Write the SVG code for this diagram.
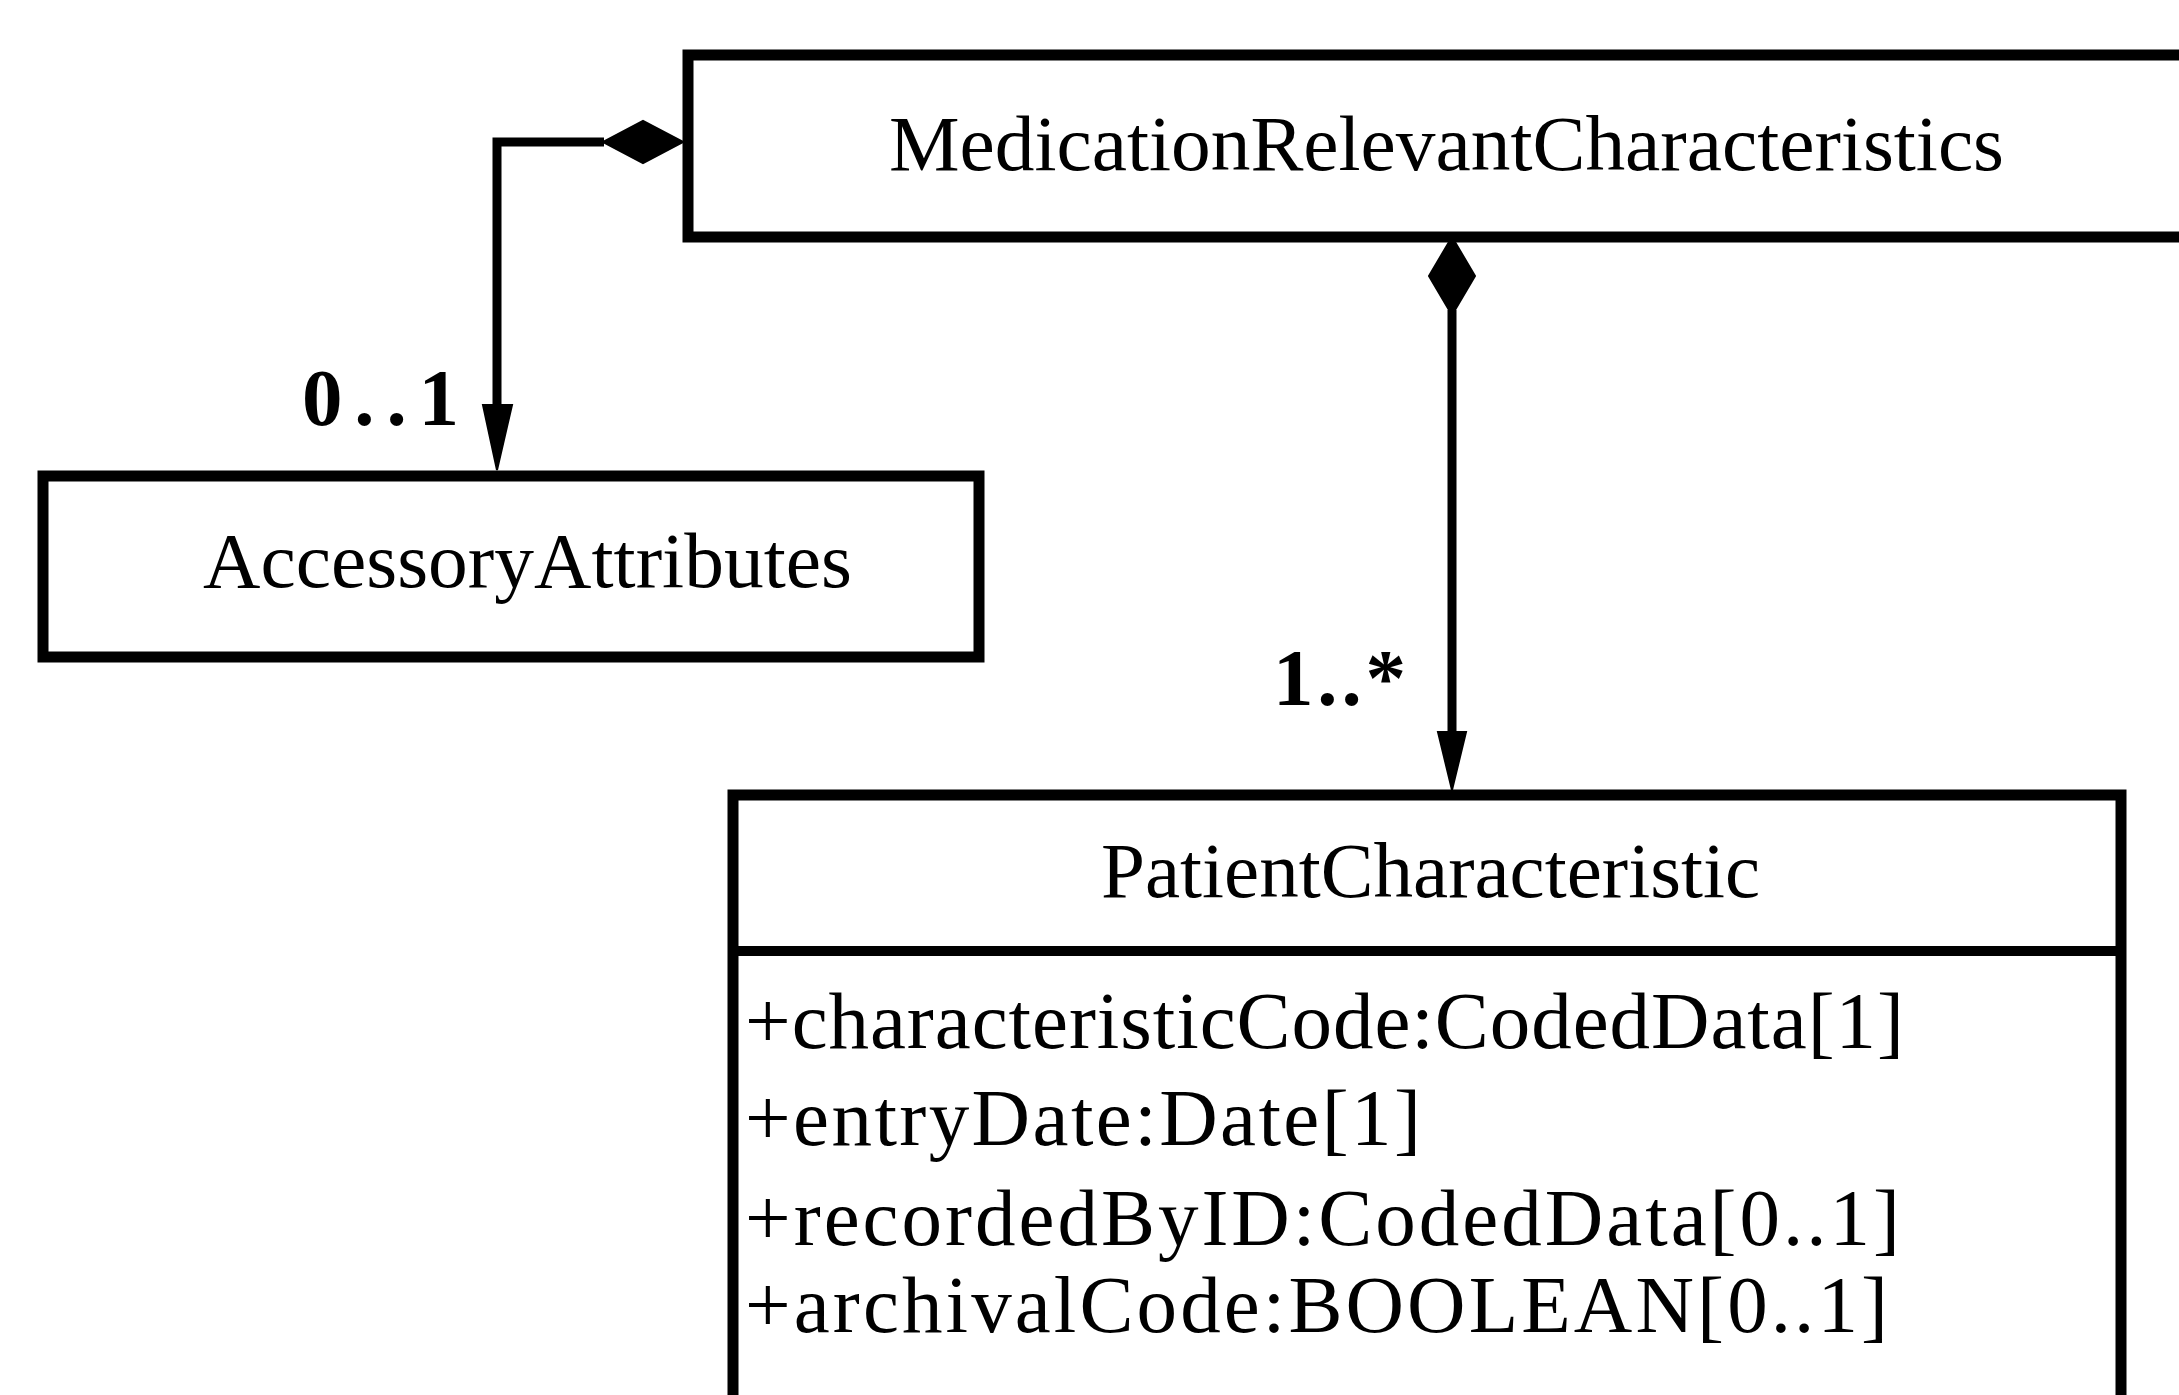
<svg xmlns="http://www.w3.org/2000/svg" width="2179" height="1395" viewBox="0 0 2179 1395">
  <style>
    .box { fill: #ffffff; stroke: #000000; stroke-width: 11; }
    .div { stroke: #000000; stroke-width: 10; fill: none; }
    .line { stroke: #000000; stroke-width: 9; fill: none; }
    .solid { fill: #000000; stroke: #000000; stroke-width: 2; stroke-linejoin: miter; }
    .title { font-family: "Liberation Serif", "Times New Roman", serif; font-size: 79px; fill: #000000; }
    .attr { font-family: "Liberation Serif", "Times New Roman", serif; font-size: 81px; fill: #000000; }
    .mult { font-family: "Liberation Serif", "Times New Roman", serif; font-size: 81px; font-weight: bold; fill: #000000; }
  </style>
  <rect x="0" y="0" width="2179" height="1395" fill="#ffffff"/>

  <g id="node-MedicationRelevantCharacteristics">
    <rect class="box" x="688" y="55" width="1560" height="182"/>
    <text class="title" x="889" y="170" textLength="1115" lengthAdjust="spacingAndGlyphs">MedicationRelevantCharacteristics</text>
  </g>

  <g id="node-AccessoryAttributes">
    <rect class="box" x="43" y="476" width="936" height="181"/>
    <text class="title" x="203" y="587" textLength="649" lengthAdjust="spacingAndGlyphs">AccessoryAttributes</text>
  </g>

  <g id="node-PatientCharacteristic">
    <rect class="box" x="733" y="795" width="1388" height="660"/>
    <line class="div" x1="733" y1="951" x2="2121" y2="951"/>
    <text class="title" x="1101" y="897" textLength="659" lengthAdjust="spacingAndGlyphs">PatientCharacteristic</text>
    <text class="attr" x="745" y="1048" textLength="1159" lengthAdjust="spacing">+characteristicCode:CodedData[1]</text>
    <text class="attr" x="745" y="1145" textLength="676" lengthAdjust="spacing">+entryDate:Date[1]</text>
    <text class="attr" x="745" y="1245" textLength="1155" lengthAdjust="spacing">+recordedByID:CodedData[0..1]</text>
    <text class="attr" x="745" y="1332" textLength="1143" lengthAdjust="spacing">+archivalCode:BOOLEAN[0..1]</text>
  </g>

  <g id="connectors">
    <g id="edge-MRC-AA">
      <polyline class="line" points="604,142 497,142 497,410"/>
      <polygon class="solid" points="683,142 643,121 603,142 643,163"/>
      <polygon class="solid" points="483,405 512,405 497,470"/>
      <text class="mult" x="302" y="425" textLength="157" lengthAdjust="spacing">0..1</text>
    </g>
    <g id="edge-MRC-PC">
      <line class="line" x1="1452" y1="310" x2="1452" y2="737"/>
      <polygon class="solid" points="1452,237 1475,276 1452,315 1429,276"/>
      <polygon class="solid" points="1438,732 1466,732 1452,790"/>
      <text class="mult" x="1273" y="705" textLength="133" lengthAdjust="spacing">1..*</text>
    </g>
  </g>
</svg>
